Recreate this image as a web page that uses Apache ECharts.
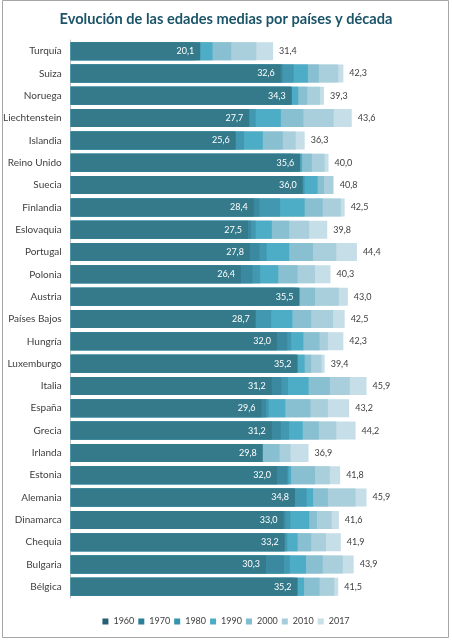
<!DOCTYPE html>
<html><head><meta charset="utf-8">
<script src="https://cdn.jsdelivr.net/npm/echarts@6/dist/echarts.min.js"></script>
<style>html,body{margin:0;padding:0;background:#fff}#c{width:452px;height:640px}</style>
</head><body><div id="c"></div>
<script>
const countries = ['Turquía','Suiza','Noruega','Liechtenstein','Islandia','Reino Unido','Suecia','Finlandia','Eslovaquia','Portugal','Polonia','Austria','Países Bajos','Hungría','Luxemburgo','Italia','España','Grecia','Irlanda','Estonia','Alemania','Dinamarca','Chequia','Bulgaria','Bélgica'];
const decades = ['1960','1970','1980','1990','2000','2010','2017'];
const v1960 = [20.1,32.6,34.3,27.7,25.6,35.6,36.0,28.4,27.5,27.8,26.4,35.5,28.7,32.0,35.2,31.2,29.6,31.2,29.8,32.0,34.8,33.0,33.2,30.3,35.2];
const v1970 = [18.9,32.9,34.0,27.5,25.4,34.2,35.3,29.3,28.0,29.3,28.2,34.8,28.5,33.6,34.8,32.7,30.3,32.6,27.6,33.6,34.5,33.3,33.0,33.1,34.5];
const v1980 = [19.5,34.6,34.2,28.7,26.9,34.6,36.3,32.5,28.7,30.4,29.4,35.1,31.1,34.2,35.1,33.7,30.7,33.9,27.2,33.8,36.6,34.1,33.6,34.0,34.9];
const v1990 = [22.0,36.8,35.3,32.6,29.8,35.9,38.3,36.3,31.2,33.9,32.2,35.4,34.4,36.1,36.3,36.9,33.3,36.0,29.0,34.2,37.6,37.0,35.2,36.5,36.2];
const v2000 = [24.9,38.5,36.7,36.1,32.9,37.4,39.3,39.1,33.9,37.6,35.2,37.9,37.3,38.6,37.3,40.2,37.2,38.5,32.4,37.9,39.9,38.2,37.3,39.1,38.6];
const v2010 = [28.8,41.5,38.7,40.8,34.9,39.4,40.7,41.9,37.0,41.2,37.9,41.6,40.7,39.9,38.9,43.3,39.9,41.2,34.1,40.2,44.2,40.5,39.6,42.2,40.9];
const v2017 = [31.4,42.3,39.3,43.6,36.3,40.0,40.8,42.5,39.8,44.4,40.3,43.0,42.5,42.3,39.4,45.9,43.2,44.2,36.9,41.8,45.9,41.6,41.9,43.9,41.5];
const values = [v1960,v1970,v1980,v1990,v2000,v2010,v2017];
const colors = ['#347a8b','#3a89a0','#4398b1','#4dadc6','#88bfd1','#a9cfdd','#c6dee7'];
const legendColors = ['#265f74','#2b7f96','#3494ae','#4bacc6','#80bdd1','#a5cddb','#c7dfe8'];
const fmt = v => v.toFixed(1).replace('.', ',');
const FONT = 'Lato';
const series = decades.map((d,i)=>({
  name: d, type:'bar', data: values[i], barWidth: 18, barGap:'-100%',
  z: 10 - i, itemStyle:{color: colors[i]},
  label: i===0 ? {show:true, position:'insideRight', color:'#fff', fontSize:9, fontFamily:FONT, distance:6, formatter:p=>fmt(p.value)}
       : i===6 ? {show:true, position:'right', color:'#404040', fontSize:9, fontFamily:FONT, distance:6, formatter:p=>fmt(p.value)}
       : {show:false}
}));
const chart = echarts.init(document.getElementById('c'));
chart.setOption({
  animation:false,
  title:{text:'Evolución de las edades medias por países y década', left:'center', top:7,
    textStyle:{fontFamily:FONT, fontSize:14.6, fontWeight:'bold', color:'#1b5468'}},
  legend:{data:decades.map((d,i)=>({name:d, itemStyle:{color:legendColors[i]}})), bottom:9, left:'center', itemWidth:6, itemHeight:6, itemGap:4, icon:'rect',
    textStyle:{fontFamily:FONT, fontSize:9, color:'#404040'}},
  grid:{left:66, top:40, width:327, height:558},
  xAxis:{type:'value', min:0, max:50, show:false, splitLine:{show:false}},
  yAxis:{type:'category', data:countries, inverse:true,
    axisLine:{lineStyle:{color:'#bfbfbf'}}, axisTick:{show:false},
    axisLabel:{fontFamily:FONT, fontSize:10, color:'#404040', margin:9}},
  graphic:[{type:'rect', shape:{x:2.5,y:0.5,width:446,height:637}, style:{fill:'none', stroke:'#a6a6a6', lineWidth:1}, silent:true}],
  series
});
</script></body></html>
